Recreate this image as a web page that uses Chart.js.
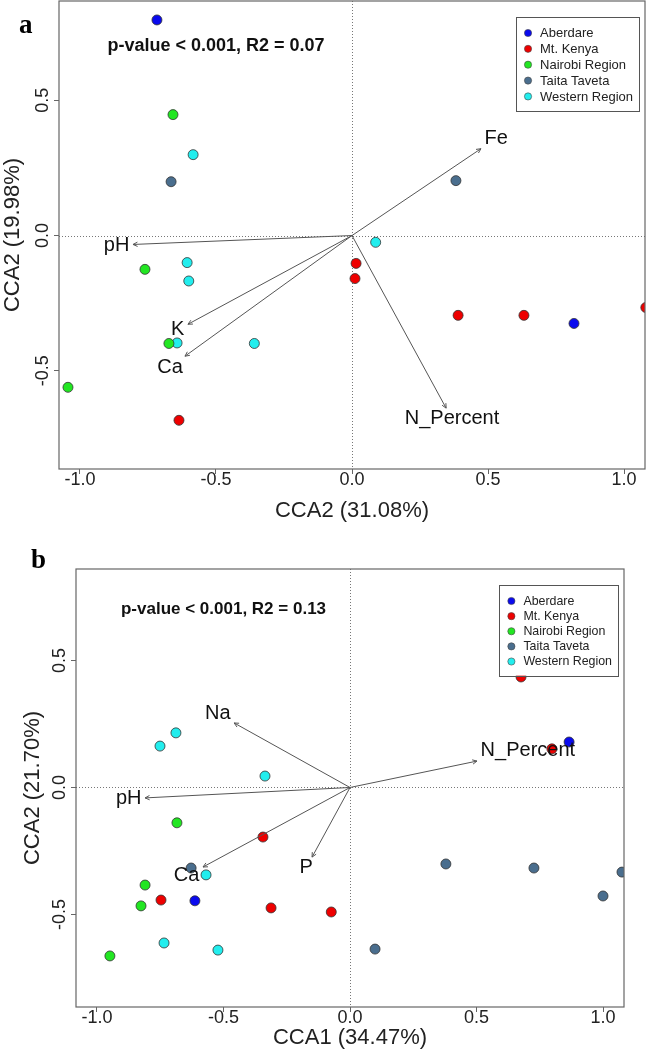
<!DOCTYPE html>
<html>
<head>
<meta charset="utf-8">
<script src="https://cdn.jsdelivr.net/npm/chart.js@4.4.0/dist/chart.umd.min.js"></script>
<style>
html, body { margin: 0; padding: 0; background: #fff; }
#wrap { position: relative; width: 647px; height: 1059px; }
.painel { position: absolute; left: 0; width: 647px; }
#pa { top: 0; height: 530px; }
#pb { top: 530px; height: 529px; }
</style>
</head>
<body>
<div id="wrap">
  <div class="painel" id="pa"><canvas id="graficoA" width="647" height="530"></canvas></div>
  <div class="painel" id="pb"><canvas id="graficoB" width="647" height="529"></canvas></div>
</div>
<script>
// dados
const regioes = ['Aberdare', 'Mt. Kenya', 'Nairobi Region', 'Taita Taveta', 'Western Region'];
const ticksX = [-1.0, -0.5, 0.0, 0.5, 1.0];
const ticksY = [-0.5, 0.0, 0.5];

// painel a
const aAberdare = [[-0.717, 0.797], [0.816, -0.325]];
const aMtKenya = [[0.015, -0.103], [0.011, -0.159], [0.390, -0.295], [0.632, -0.295], [1.080, -0.266], [-0.636, -0.683]];
const aNairobi = [[-0.658, 0.447], [-0.761, -0.125], [-0.673, -0.399], [-1.044, -0.561]];
const aTaita = [[-0.665, 0.199], [0.382, 0.203]];
const aWestern = [[-0.584, 0.299], [-0.606, -0.100], [-0.600, -0.168], [-0.643, -0.397], [-0.359, -0.399], [0.087, -0.025]];
const aVetores = ['Fe', 'pH', 'K', 'Ca', 'N_Percent'];
const aVetoresXY = [[0.474, 0.321], [-0.805, -0.033], [-0.603, -0.328], [-0.614, -0.446], [0.346, -0.638]];
const aTexto = 'p-value < 0.001, R2 = 0.07';

// painel b
const bAberdare = [[0.866, 0.179], [-0.613, -0.446]];
const bMtKenya = [[0.676, 0.435], [0.798, 0.152], [-0.344, -0.195], [-0.747, -0.443], [-0.312, -0.474], [-0.074, -0.490]];
const bNairobi = [[-0.684, -0.139], [-0.810, -0.384], [-0.826, -0.466], [-0.949, -0.663]];
const bTaita = [[-0.628, -0.317], [0.379, -0.301], [0.727, -0.317], [1.075, -0.333], [1.000, -0.427], [0.099, -0.636]];
const bWestern = [[-0.751, 0.163], [-0.688, 0.215], [-0.336, 0.045], [-0.569, -0.344], [-0.735, -0.612], [-0.522, -0.640]];
const bVetores = ['Na', 'pH', 'Ca', 'P', 'N_Percent'];
const bVetoresXY = [[-0.458, 0.254], [-0.810, -0.041], [-0.581, -0.313], [-0.150, -0.274], [0.502, 0.104]];
const bTexto = 'p-value < 0.001, R2 = 0.13';

// estilo
const fonte = '"Liberation Sans", Arial, sans-serif';
const coresRegiao = ['#0a0aee', '#ee0000', '#22e622', '#4a6e8e', '#22eeee'];
const corEixo = '#666';

// plugin que desenha caixa, linhas zero, setas, legenda e anotações
const pluginBiplot = {
    id: 'biplot',
    beforeDatasetsDraw(chart) {
        const { ctx, chartArea: ca, scales } = chart;
        const x0 = scales.x.getPixelForValue(0);
        const y0 = scales.y.getPixelForValue(0);
        ctx.save();
        ctx.strokeStyle = '#777';
        ctx.lineWidth = 1;
        ctx.setLineDash([1, 2]);
        ctx.beginPath();
        ctx.moveTo(ca.left, Math.round(y0) + 0.5);
        ctx.lineTo(ca.right, Math.round(y0) + 0.5);
        ctx.moveTo(Math.round(x0) + 0.5, ca.top);
        ctx.lineTo(Math.round(x0) + 0.5, ca.bottom);
        ctx.stroke();
        ctx.restore();
    },
    afterDraw(chart) {
        const { ctx, chartArea: ca, scales } = chart;
        const cfg = chart.options.plugins.biplot;

        // caixa
        ctx.save();
        ctx.strokeStyle = corEixo;
        ctx.lineWidth = 1.2;
        ctx.strokeRect(ca.left, ca.top, ca.right - ca.left, ca.bottom - ca.top);

        // rótulos do eixo y (verticais, estilo R)
        ctx.fillStyle = '#222';
        ctx.font = `18px ${fonte}`;
        ctx.textAlign = 'center';
        ctx.textBaseline = 'alphabetic';
        scales.y.ticks.forEach(t => {
            const py = scales.y.getPixelForValue(t.value);
            ctx.save();
            ctx.translate(ca.left - 11, py);
            ctx.rotate(-Math.PI / 2);
            ctx.fillText(t.value.toFixed(1), 0, 0);
            ctx.restore();
        });

        // setas e nomes das variáveis
        ctx.strokeStyle = '#555';
        ctx.fillStyle = '#111';
        ctx.lineWidth = 1;
        chart.data.datasets.forEach((ds, i) => {
            if (!ds.seta) return;
            const pts = chart.getDatasetMeta(i).data;
            const p0 = pts[0], p1 = pts[1];
            const ang = Math.atan2(p1.y - p0.y, p1.x - p0.x);
            ctx.beginPath();
            [0.45, -0.45].forEach(d => {
                ctx.moveTo(p1.x, p1.y);
                ctx.lineTo(p1.x - 5 * Math.cos(ang + d), p1.y - 5 * Math.sin(ang + d));
            });
            ctx.stroke();

            ctx.font = `${cfg.fonteSeta}px ${fonte}`;
            const w = ctx.measureText(ds.label).width;
            const h = cfg.fonteSeta * 0.72;
            const dx = p1.x - p0.x, dy = p0.y - p1.y;
            let ox = Math.sign(dx) * (w / 2 + h / 4);
            let oy = Math.sign(dy) * 0.75 * h;
            const b = dy / dx;
            const move = oy / b;
            if (isFinite(move) && Math.abs(move) <= Math.abs(ox)) ox = move;
            else oy = b * ox;
            ctx.textAlign = 'center';
            ctx.textBaseline = 'middle';
            ctx.fillText(ds.label, p1.x + ox, p1.y - oy);
        });

        // texto do teste
        ctx.font = `bold ${cfg.fonteTexto}px ${fonte}`;
        ctx.fillStyle = '#111';
        ctx.textAlign = 'center';
        ctx.textBaseline = 'middle';
        ctx.fillText(cfg.texto, scales.x.getPixelForValue(-0.5), scales.y.getPixelForValue(0.7));

        // legenda
        const fl = cfg.fonteLegenda;
        ctx.font = `${fl}px ${fonte}`;
        const larg = Math.max(...regioes.map(r => ctx.measureText(r).width));
        const bw = 24 + larg + 6;
        const passo = fl * 1.22;
        const bh = passo * regioes.length + 15;
        const bx = ca.right - 6 - bw;
        const by = ca.top + 16;
        ctx.fillStyle = '#fff';
        ctx.fillRect(bx, by, bw, bh);
        ctx.strokeStyle = '#555';
        ctx.lineWidth = 1;
        ctx.strokeRect(Math.round(bx) + 0.5, Math.round(by) + 0.5, Math.round(bw), Math.round(bh));
        ctx.textAlign = 'left';
        regioes.forEach((r, i) => {
            const ry = by + 16 + i * passo;
            ctx.beginPath();
            ctx.arc(bx + 12, ry, 3.6, 0, Math.PI * 2);
            ctx.fillStyle = coresRegiao[i];
            ctx.fill();
            ctx.strokeStyle = '#444';
            ctx.lineWidth = 0.6;
            ctx.stroke();
            ctx.fillStyle = '#222';
            ctx.fillText(r, bx + 24, ry + 0.5);
        });

        // letra do painel
        ctx.font = `bold 27px "Liberation Serif", "Times New Roman", serif`;
        ctx.fillStyle = '#000';
        ctx.textAlign = 'left';
        ctx.textBaseline = 'alphabetic';
        ctx.fillText(cfg.letra, cfg.letraXY[0], cfg.letraXY[1]);
        ctx.restore();
    }
};

function criarPainel(canvasId, p) {
    const datasets = p.pontos.map((pts, i) => ({
        label: regioes[i],
        data: pts.map(([x, y]) => ({ x, y })),
        backgroundColor: coresRegiao[i],
        borderColor: '#333',
        borderWidth: 0.8,
        pointRadius: 5,
        pointHoverRadius: 5,
        order: i === 2 ? 2 : 3
    }));
    p.vetores.forEach((nome, i) => {
        datasets.push({
            label: nome,
            seta: true,
            data: [{ x: 0, y: 0 }, { x: p.vetoresXY[i][0], y: p.vetoresXY[i][1] }],
            showLine: true,
            borderColor: '#555',
            borderWidth: 1,
            pointRadius: 0,
            order: 1
        });
    });

    const config = {
        type: 'scatter',
        data: { datasets },
        options: {
            responsive: false,
            animation: false,
            layout: { padding: p.margem, autoPadding: false },
            plugins: {
                legend: { display: false },
                tooltip: { enabled: false },
                biplot: {
                    texto: p.texto,
                    fonteTexto: p.fonteTexto,
                    fonteLegenda: p.fonteLegenda,
                    fonteSeta: 20,
                    letra: p.letra,
                    letraXY: p.letraXY
                }
            },
            scales: {
                x: {
                    type: 'linear',
                    min: p.limX[0],
                    max: p.limX[1],
                    afterBuildTicks: s => { s.ticks = ticksX.map(v => ({ value: v })); },
                    afterFit: s => { s.height = p.alturaX; },
                    grid: { drawOnChartArea: false, drawTicks: true, tickLength: 5, color: corEixo },
                    border: { display: false },
                    ticks: {
                        autoSkip: false,
                        maxRotation: 0,
                        padding: -5,
                        color: '#222',
                        font: { family: fonte, size: 18 },
                        callback: v => v.toFixed(1)
                    },
                    title: {
                        display: true,
                        text: p.tituloX,
                        color: '#222',
                        font: { family: fonte, size: 22 },
                        padding: { top: 0, bottom: p.padTituloX }
                    }
                },
                y: {
                    type: 'linear',
                    min: p.limY[0],
                    max: p.limY[1],
                    afterBuildTicks: s => { s.ticks = ticksY.map(v => ({ value: v })); },
                    afterFit: s => { s.width = p.larguraY; },
                    grid: { drawOnChartArea: false, drawTicks: true, tickLength: 5, color: corEixo },
                    border: { display: false },
                    ticks: { display: false },
                    title: {
                        display: true,
                        text: p.tituloY,
                        color: '#222',
                        font: { family: fonte, size: 22 },
                        padding: { top: p.padTituloY, bottom: 0 }
                    }
                }
            }
        },
        plugins: [pluginBiplot]
    };

    return new Chart(document.getElementById(canvasId), config);
}

criarPainel('graficoA', {
    pontos: [aAberdare, aMtKenya, aNairobi, aTaita, aWestern],
    vetores: aVetores,
    vetoresXY: aVetoresXY,
    texto: aTexto,
    fonteTexto: 18,
    fonteLegenda: 13,
    letra: 'a',
    letraXY: [19, 33],
    tituloX: 'CCA2 (31.08%)',
    tituloY: 'CCA2 (19.98%)',
    limX: [-1.077, 1.077],
    limY: [-0.863, 0.867],
    margem: { left: 0, right: 2, top: 1, bottom: 0 },
    larguraY: 59,
    alturaX: 61,
    padTituloX: 6,
    padTituloY: 0
});

criarPainel('graficoB', {
    pontos: [bAberdare, bMtKenya, bNairobi, bTaita, bWestern],
    vetores: bVetores,
    vetoresXY: bVetoresXY,
    texto: bTexto,
    fonteTexto: 17,
    fonteLegenda: 12.4,
    letra: 'b',
    letraXY: [31, 38],
    tituloX: 'CCA1 (34.47%)',
    tituloY: 'CCA2 (21.70%)',
    limX: [-1.083, 1.083],
    limY: [-0.864, 0.86],
    margem: { left: 0, right: 23, top: 39, bottom: 0 },
    larguraY: 76,
    alturaX: 52,
    padTituloX: 8,
    padTituloY: 20
});
</script>
</body>
</html>
